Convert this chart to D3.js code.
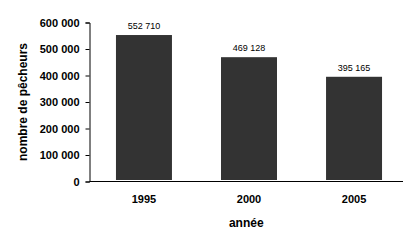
<!DOCTYPE html>
<html>
<head>
<meta charset="utf-8">
<script src="https://cdn.jsdelivr.net/npm/d3@7"></script>
<style>
  body { margin: 0; background: #fff; }
  svg { display: block; font-family: Arial, 'Liberation Sans', sans-serif; }
</style>
</head>
<body>
<div id="chart"></div>
<script>
const years = ['1995', '2000', '2005'];
const pecheurs = [552710, 469128, 395165];
const yTicks = [0, 100000, 200000, 300000, 400000, 500000, 600000];

const width = 415;
const height = 244;
const margin = { top: 22.5, left: 89.5, bottom: 62.5, right: 12 };
const axisEnd = 403;

const fmt = (v) => d3.format(',')(v).replace(/,/g, ' ');

// bars sit a little right of the axis middle, as in the original
const x = d3.scaleBand()
  .domain(years)
  .range([margin.left, 408.5])
  .paddingInner(0.467)
  .paddingOuter(0.252);

const y = d3.scaleLinear()
  .domain([0, 600000])
  .range([height - margin.bottom, margin.top]);

const svg = d3.select('#chart')
  .append('svg')
  .attr('width', width)
  .attr('height', height);

svg.selectAll('rect.bar')
  .data(pecheurs)
  .enter()
  .append('rect')
  .attr('class', 'bar')
  .attr('x', (d, i) => x(years[i]))
  .attr('width', x.bandwidth())
  .attr('y', (d) => y(d))
  .attr('height', (d) => y(0) - 1.5 - y(d))
  .attr('fill', '#333333');

svg.selectAll('text.val')
  .data(pecheurs)
  .enter()
  .append('text')
  .attr('class', 'val')
  .attr('x', (d, i) => x(years[i]) + x.bandwidth() / 2)
  .attr('y', (d) => y(d) - 6)
  .attr('text-anchor', 'middle')
  .attr('font-size', '9px')
  .attr('fill', '#000')
  .text(fmt);

const yAxis = svg.append('g')
  .attr('transform', `translate(${margin.left},0)`)
  .call(d3.axisLeft(y).tickValues(yTicks).tickSize(4).tickPadding(6).tickFormat(fmt));
yAxis.select('.domain').attr('stroke', '#000');
yAxis.selectAll('.tick line').attr('stroke', '#000');
yAxis.selectAll('text')
  .attr('font-size', '11px')
  .attr('font-weight', 'bold')
  .attr('fill', '#000');

const xAxis = svg.append('g')
  .attr('transform', `translate(0,${y(0)})`)
  .call(d3.axisBottom(x).tickSize(0).tickPadding(14));
xAxis.select('.domain').remove();
xAxis.selectAll('text')
  .attr('font-size', '11px')
  .attr('font-weight', 'bold')
  .attr('fill', '#000');

svg.append('line')
  .attr('x1', margin.left)
  .attr('x2', axisEnd)
  .attr('y1', y(0))
  .attr('y2', y(0))
  .attr('stroke', '#000');

svg.append('text')
  .attr('x', (margin.left + axisEnd) / 2)
  .attr('y', 227)
  .attr('text-anchor', 'middle')
  .attr('font-size', '12px')
  .attr('font-weight', 'bold')
  .text('année');

svg.append('text')
  .attr('transform', `translate(27,${(margin.top + height - margin.bottom) / 2}) rotate(-90)`)
  .attr('text-anchor', 'middle')
  .attr('font-size', '12px')
  .attr('font-weight', 'bold')
  .text('nombre de pêcheurs');
</script>
</body>
</html>
